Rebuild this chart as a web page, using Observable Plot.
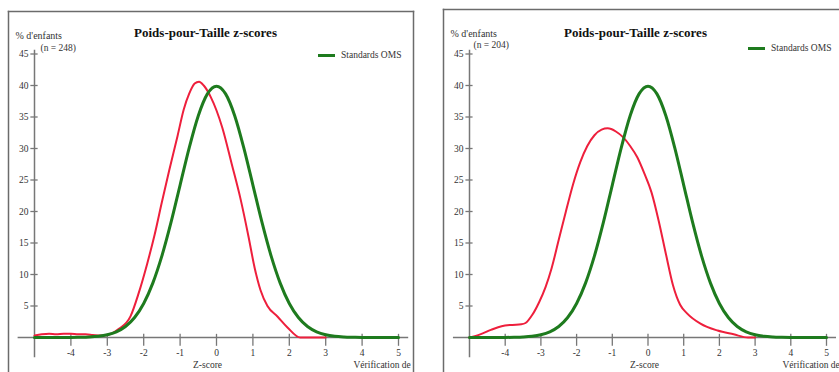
<!DOCTYPE html>
<html><head><meta charset="utf-8">
<script src="https://cdn.jsdelivr.net/npm/d3@7"></script>
<script src="https://cdn.jsdelivr.net/npm/@observablehq/plot@0.6"></script>
<style>
body{margin:0;background:#fff;}
#wrap{position:relative;width:839px;height:372px;overflow:hidden;background:#fff;}
#wrap svg{position:absolute;top:0;}
.leg{position:absolute;font-family:"Liberation Serif",serif;font-size:9.5px;color:#333;white-space:nowrap;display:flex;align-items:center;}
.leg span.sw{display:inline-block;width:17px;height:3px;background:#1e7b1e;margin-right:6px;}
</style></head><body><div id="wrap"></div>
<script>
// ---- data ----
const title = "Poids-pour-Taille z-scores";
const yLabel = "% d'enfants";
const xLabel = "Z-score";
const footer = "Vérification de";
const legendLabel = "Standards OMS";
const nLabels = ["(n = 248)", "(n = 204)"];
const xTicks = [-5, -4, -3, -2, -1, 0, 1, 2, 3, 4, 5];
const xTickLabels = [-4, -3, -2, -1, 0, 1, 2, 3, 4, 5];
const yTicks = [5, 10, 15, 20, 25, 30, 35, 40, 45];

// WHO standard curve (green), same in both panels
const whoZ   = [-5, -4.75, -4.5, -4.25, -4, -3.75, -3.5, -3.25, -3, -2.75, -2.5, -2.25, -2, -1.75, -1.5, -1.25, -1, -0.75, -0.5, -0.25, 0, 0.25, 0.5, 0.75, 1, 1.25, 1.5, 1.75, 2, 2.25, 2.5, 2.75, 3, 3.25, 3.5, 3.75, 4, 4.25, 4.5, 4.75, 5];
const whoPct = [0, 0, 0, 0, 0.01, 0.04, 0.09, 0.2, 0.44, 0.91, 1.75, 3.17, 5.4, 8.63, 12.95, 18.26, 24.2, 30.11, 35.21, 38.67, 39.89, 38.67, 35.21, 30.11, 24.2, 18.26, 12.95, 8.63, 5.4, 3.17, 1.75, 0.91, 0.44, 0.2, 0.09, 0.04, 0.01, 0, 0, 0, 0];

// Observed (red), left panel
const leftZ   = [-5, -4.8, -4.6, -4.4, -4.2, -4, -3.8, -3.6, -3.4, -3.2, -3, -2.7, -2.36, -2.14, -1.9, -1.7, -1.5, -1.3, -1.07, -0.9, -0.75, -0.6, -0.48, -0.35, -0.16, 0.16, 0.42, 0.66, 0.88, 1.05, 1.21, 1.4, 1.68, 1.95, 2.3, 3];
const leftPct = [0.3, 0.5, 0.6, 0.5, 0.6, 0.6, 0.5, 0.5, 0.4, 0.3, 0.4, 1.3, 3.4, 7.0, 11.8, 16.3, 21.5, 26.5, 32.0, 36.2, 38.7, 40.3, 40.6, 40.0, 38.2, 33.3, 27.5, 22.0, 16.0, 11.0, 7.5, 5.0, 3.3, 1.6, 0, 0];

// Observed (red), right panel
const rightZ   = [-5, -4.7, -4.4, -4.1, -3.8, -3.55, -3.43, -3.24, -3.05, -2.87, -2.7, -2.5, -2.3, -2.1, -1.9, -1.7, -1.5, -1.3, -1.13, -0.9, -0.7, -0.5, -0.3, -0.1, 0.1, 0.3, 0.5, 0.7, 0.9, 1.1, 1.47, 1.95, 2.4, 2.8, 3];
const rightPct = [0, 0.5, 1.2, 1.8, 2.0, 2.1, 2.3, 3.6, 5.6, 8.0, 11.0, 15.5, 20.0, 24.3, 27.8, 30.4, 32.1, 33.0, 33.2, 32.7, 31.8, 30.4, 28.6, 26.0, 23.0, 18.5, 13.3, 8.3, 5.2, 3.8, 2.2, 1.1, 0.5, 0, 0];

// ---- drawing ----
const RED = "#ee1f3c", GREEN = "#1e7b1e", AXIS = "#777", TXT = "#333";
const wrap = document.getElementById("wrap");

function panel(cfg) {
  const obs = cfg.obsZ.map((z, i) => ({z, pct: cfg.obsPct[i]}));
  const who = whoZ.map((z, i) => ({z, pct: whoPct[i]}));
  const txt = (s, px, py, o = {}) => Plot.text([s], {text: d => d, frameAnchor: "top-left", lineAnchor: "middle", dx: px - cfg.marginLeft, dy: py - cfg.marginTop, fill: TXT, ...o});
  const svg = Plot.plot({
    width: cfg.width, height: 372,
    marginLeft: cfg.marginLeft, marginRight: cfg.marginRight, marginTop: cfg.marginTop, marginBottom: 0,
    x: {domain: [-5, 5], range: cfg.xRange, axis: null},
    y: {domain: [0, 45], range: [337, 53.5], axis: null},
    style: {fontFamily: "'Liberation Serif', serif", fontSize: "9.5px", background: "white", overflow: "visible"},
    marks: [
      ...cfg.frames.map(a => Plot.frame({anchor: a, stroke: "#6b6b6b", strokeWidth: 1.5})),
      Plot.ruleY([0], {x1: -5.45, x2: 5.28, stroke: AXIS, strokeWidth: 1.5}),
      Plot.ruleX([-5], {y1: -3.2, y2: 45.6, stroke: AXIS, strokeWidth: 1.5}),
      Plot.ruleX(xTicks.slice(1), {x: d => d, y1: -1.4, y2: 0.5, stroke: AXIS, strokeWidth: 1.3}),
      Plot.ruleY(yTicks, {y: d => d, x1: -5.1, x2: -4.9, stroke: AXIS, strokeWidth: 1.3}),
      Plot.text(xTickLabels, {x: d => d, y: 0, dy: 15, text: d => String(d), fill: TXT}),
      Plot.text(yTicks, {x: -5, y: d => d, dx: -6, textAnchor: "end", text: d => String(d), fill: TXT}),
      Plot.line(obs, {x: "z", y: "pct", stroke: RED, strokeWidth: 2, curve: "monotone-x"}),
      Plot.line(who, {x: "z", y: "pct", stroke: GREEN, strokeWidth: 3, curve: "monotone-x"}),
      txt(title, cfg.titleX, 32, {textAnchor: "middle", fontWeight: "bold", fontSize: 13, fill: "#111"}),
      txt(yLabel, cfg.yLabX, cfg.yLabY, {textAnchor: "start", fontSize: 10}),
      txt(cfg.n, cfg.nX, cfg.nY, {textAnchor: "start"}),
      txt(xLabel, cfg.zX, 364, {textAnchor: "middle"}),
      txt(footer, cfg.footX, 364, {textAnchor: "start"})
    ]
  });
  svg.style.left = cfg.left + "px";
  wrap.appendChild(svg);
  const leg = document.createElement("div");
  leg.className = "leg";
  leg.style.left = cfg.legX + "px";
  leg.style.top = (cfg.legY - 6) + "px";
  leg.style.height = "12px";
  leg.innerHTML = '<span class="sw"></span>' + legendLabel;
  wrap.appendChild(leg);
}

panel({left: 0, width: 420, xRange: [34, 398], marginLeft: 8, marginRight: 7, marginTop: 11,
  frames: ["top", "left", "right"], obsZ: leftZ, obsPct: leftPct, n: nLabels[0],
  titleX: 205, yLabX: 15, yLabY: 35, nX: 40, nY: 47, zX: 207, footX: 353, legX: 318, legY: 55});
panel({left: 420, width: 419, xRange: [49, 406], marginLeft: 23, marginRight: 0, marginTop: 9,
  frames: ["top", "left"], obsZ: rightZ, obsPct: rightPct, n: nLabels[1],
  titleX: 215, yLabX: 30, yLabY: 33, nX: 53, nY: 44, zX: 224, footX: 362, legX: 748, legY: 48});
</script></body></html>
